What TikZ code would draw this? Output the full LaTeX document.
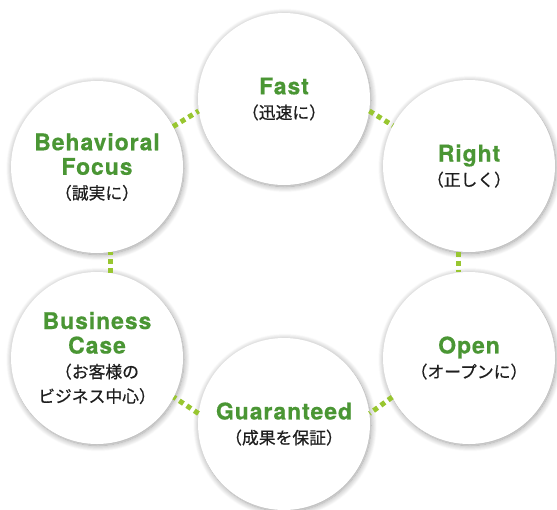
\documentclass[tikz,border=0pt]{standalone}
\usepackage{fontspec}
\setmainfont{TeX Gyre Heros}
\newfontfamily\jpfont[FakeBold=0.6]{Noto Sans CJK JP}
\usetikzlibrary{shadows.blur}

\definecolor{leafgreen}{RGB}{74,150,52}
\definecolor{dotgreen}{RGB}{152,198,48}
\definecolor{subgray}{RGB}{30,30,30}
\newcommand{\ttl}{\fontsize{23}{25}\selectfont\bfseries\addfontfeature{LetterSpace=4,FakeBold=0.5}\color{leafgreen}}
\newcommand{\jpsub}{\jpfont\fontsize{16.8}{24}\selectfont\color{subgray}}

\begin{document}
\begin{tikzpicture}[x=1pt, y=-1pt,
  stage/.style={circle, fill=white, minimum size=172pt, inner sep=0pt, align=center,
    font=\fontsize{16.8}{24.5}\selectfont,
    blur shadow={shadow xshift=1pt, shadow yshift=-1.5pt, shadow blur radius=6pt,
      shadow blur steps=12, shadow opacity=40}},
  link/.style={dotgreen, line width=5pt, dash pattern=on 5pt off 4pt}]
\useasboundingbox (0,0) rectangle (557,509);

% six stages round the ring
\node[stage] (fast) at (284,99) {{\ttl Fast}\\{\jpsub （迅速に）}};
\node[stage] (right) at (469,166) {{\ttl Right}\\{\jpsub （正しく）}};
\node[stage] (open) at (469,358) {{\ttl Open}\\{\jpsub （オープンに）}};
\node[stage] (guaranteed) at (284,424) {{\ttl Guaranteed}\\{\jpsub （成果を保証）}};
\node[stage] (business) at (97,358) {{\ttl Business}\\{\ttl Case}\\{\jpsub （お客様の}\\{\jpsub ビジネス中心）}};
\node[stage] (behavioral) at (97,167) {{\ttl Behavioral}\\{\ttl Focus}\\{\jpsub （誠実に）}};

% dotted links in the gaps
\draw[link] (fast.-8) -- (right.152);
\draw[link] (right.-97) -- (open.97);
\draw[link] (open.207) -- (guaranteed.7);
\draw[link] (guaranteed.173) -- (business.-27);
\draw[link] (business.81) -- (behavioral.-81);
\draw[link] (behavioral.28) -- (fast.188);
\end{tikzpicture}
\end{document}
